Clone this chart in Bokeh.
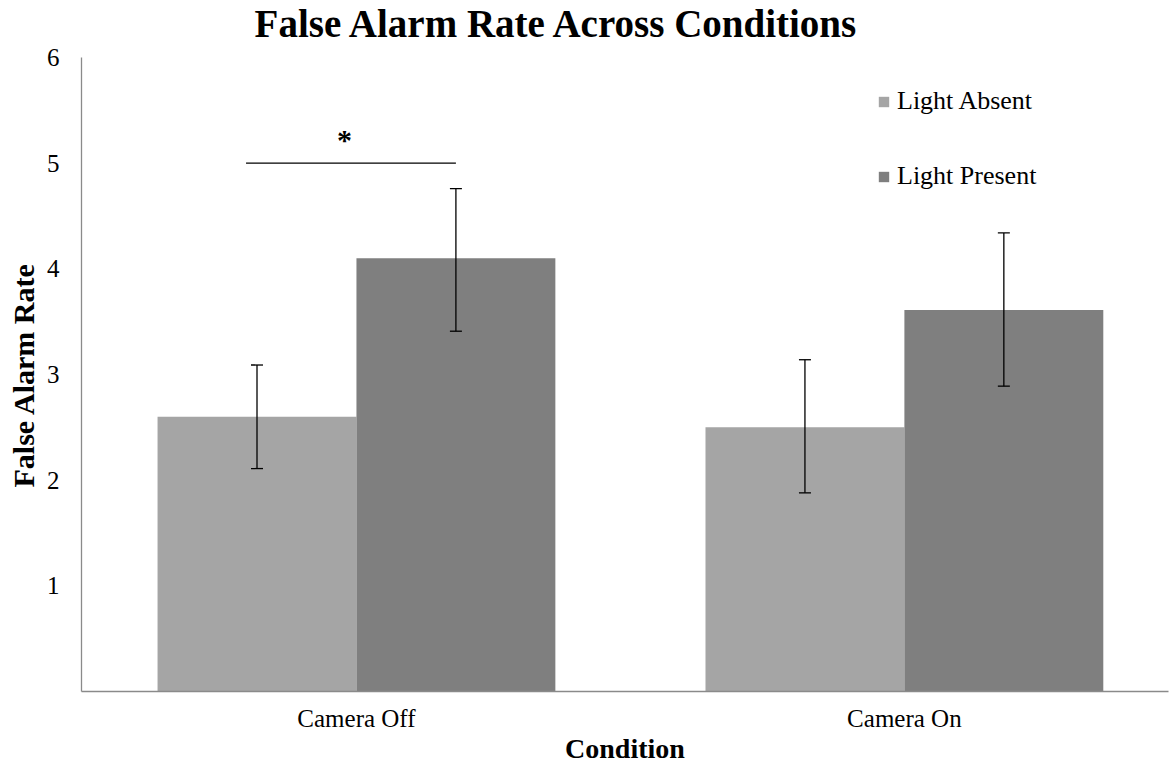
from bokeh.plotting import figure
from bokeh.models import (ColumnDataSource, Range1d, FixedTicker, Whisker, TeeHead,
                          Legend, LegendItem, Label, Title)
from bokeh.embed import file_html
from bokeh.resources import INLINE

# ---- data ----
categories = ["Camera Off", "Camera On"]
series = ["Light Absent", "Light Present"]
light_absent = [2.60, 2.50]
light_present = [4.10, 3.61]
absent_lower = [2.11, 1.88]
absent_upper = [3.09, 3.14]
present_lower = [3.41, 2.89]
present_upper = [4.76, 4.34]
y_ticks = [1, 2, 3, 4, 5, 6]
title_text = "False Alarm Rate Across Conditions"
x_title = "Condition"
y_title = "False Alarm Rate"
sig_text = "*"
sig_level = 5.0

# ---- style ----
colors = ["#A5A5A5", "#7F7F7F"]
FONT = "Liberation Serif"
BAR_W = 0.363
AXIS_COLOR = "#8A8A8A"
Y_AXIS_MAX = 6
Y_VIEW_MAX = 6.54   # extra headroom so the title sits inside the frame

group_x = [i + 0.5 for i in range(len(categories))]
x_absent = [g - BAR_W / 2 for g in group_x]
x_present = [g + BAR_W / 2 for g in group_x]

src_a = ColumnDataSource(dict(x=x_absent, top=light_absent, lower=absent_lower, upper=absent_upper))
src_p = ColumnDataSource(dict(x=x_present, top=light_present, lower=present_lower, upper=present_upper))

p = figure(width=1171, height=768, output_backend="svg", toolbar_location=None,
           x_range=Range1d(-0.0018, 1.982), y_range=Range1d(0, Y_VIEW_MAX),
           min_border_left=81, min_border_right=3, min_border_top=0, min_border_bottom=77)

# chart title
p.add_layout(Label(x=0.867, y=6.323, text=title_text,
                   text_align="center", text_baseline="alphabetic", text_font=FONT,
                   text_font_size="39px", text_font_style="bold", text_color="black"))

r_a = p.vbar(x="x", top="top", width=BAR_W, source=src_a, fill_color=colors[0], line_color=None)
r_p = p.vbar(x="x", top="top", width=BAR_W, source=src_p, fill_color=colors[1], line_color=None)

for src in (src_a, src_p):
    w = Whisker(source=src, base="x", lower="lower", upper="upper", dimension="height",
                line_color="black", line_width=1.3, level="annotation",
                upper_head=TeeHead(size=12, line_color="black", line_width=1.3),
                lower_head=TeeHead(size=12, line_color="black", line_width=1.3))
    p.add_layout(w)

# significance bracket between bars of the first group
sig_x0 = x_absent[0] - 0.02
sig_x1 = x_present[0]
p.line(x=[sig_x0, sig_x1], y=[sig_level, sig_level], line_color="black", line_width=1.3)
p.add_layout(Label(x=(sig_x0 + sig_x1) / 2 - 0.012, y=sig_level + 0.22, text=sig_text,
                   text_align="center", text_baseline="middle", text_font=FONT,
                   text_font_size="30px", text_font_style="bold", text_color="black"))

legend = Legend(items=[LegendItem(label=series[0], renderers=[r_a]),
                       LegendItem(label=series[1], renderers=[r_p])],
                location=(796, 500), orientation="vertical",
                border_line_color=None, background_fill_alpha=0,
                padding=0, margin=0, spacing=45,
                glyph_width=13, glyph_height=13, label_standoff=7,
                label_text_font=FONT, label_text_font_size="26px", label_text_color="black")
p.add_layout(legend)

# axes
p.xaxis.ticker = FixedTicker(ticks=group_x)
p.xaxis.major_label_overrides = {g: c for g, c in zip(group_x, categories)}
p.yaxis.ticker = FixedTicker(ticks=y_ticks)
p.yaxis.bounds = (0, Y_AXIS_MAX)
for ax in (p.xaxis[0], p.yaxis[0]):
    ax.axis_line_color = AXIS_COLOR
    ax.axis_line_width = 1.3
    ax.major_tick_in = 0
    ax.major_tick_out = 0
    ax.minor_tick_line_color = None
    ax.major_tick_line_color = None
    ax.major_label_text_font = FONT
    ax.major_label_text_font_size = "25px"
    ax.major_label_text_color = "black"
    ax.axis_label_text_font = FONT
    ax.axis_label_text_font_style = "bold"
    ax.axis_label_text_color = "black"

p.xaxis.axis_label = x_title
p.xaxis.axis_label_text_font_size = "28px"
p.xaxis.major_label_standoff = 13
p.xaxis.axis_label_standoff = -2

p.yaxis.major_label_standoff = 22

# y-axis title as a side title, so it can be centred on the 0-6 axis rather than the frame
y_label = Title(text=y_title, align="left", offset=204, vertical_align="bottom", standoff=7,
                text_font=FONT, text_font_size="30px", text_font_style="bold", text_color="black")
p.add_layout(y_label, "left")

p.xgrid.grid_line_color = None
p.ygrid.grid_line_color = None
p.outline_line_color = None
p.background_fill_color = "white"
p.border_fill_color = "white"

open("out.html", "w").write(file_html(p, INLINE))
